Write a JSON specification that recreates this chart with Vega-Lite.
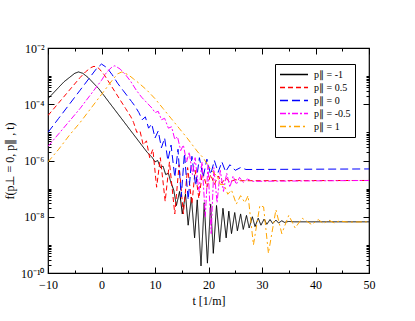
{
  "$schema": "https://vega.github.io/schema/vega-lite/v6.json",
  "width": 321,
  "height": 225,
  "autosize": {"type": "none"},
  "padding": {"left": 48, "top": 48, "right": 46, "bottom": 48},
  "background": "white",
  "config": {
    "view": {"stroke": "black", "strokeWidth": 1.2},
    "font": "Liberation Serif",
    "axis": {"domain": false, "grid": false, "tickColor": "black", "labelColor": "black", "titleColor": "black", "labelFont": "Liberation Serif", "titleFont": "Liberation Serif", "labelFontSize": 12, "titleFontSize": 12, "titleFontWeight": "normal"}
  },
  "datasets": {
    "curves": [
      {"s":"p∥ = -1","t":-10,"f":1.58e-4},{"s":"p∥ = -1","t":-9,"f":2.51e-4},{"s":"p∥ = -1","t":-8,"f":3.98e-4},{"s":"p∥ = -1","t":-7,"f":6.31e-4},{"s":"p∥ = -1","t":-6,"f":8.91e-4},{"s":"p∥ = -1","t":-5,"f":1.26e-3},{"s":"p∥ = -1","t":-4.3,"f":1.41e-3},{"s":"p∥ = -1","t":-3.5,"f":1.26e-3},{"s":"p∥ = -1","t":-2.5,"f":8.91e-4},{"s":"p∥ = -1","t":-1.5,"f":5.62e-4},{"s":"p∥ = -1","t":-0.5,"f":3.55e-4},{"s":"p∥ = -1","t":0.5,"f":2.0e-4},{"s":"p∥ = -1","t":1.5,"f":1.12e-4},{"s":"p∥ = -1","t":2.5,"f":6.31e-5},{"s":"p∥ = -1","t":3.5,"f":3.55e-5},{"s":"p∥ = -1","t":4.5,"f":2.0e-5},{"s":"p∥ = -1","t":5.5,"f":1.12e-5},{"s":"p∥ = -1","t":6.5,"f":6.31e-6},{"s":"p∥ = -1","t":7.5,"f":3.55e-6},{"s":"p∥ = -1","t":8.5,"f":2.0e-6},{"s":"p∥ = -1","t":9.5,"f":1.26e-6},{"s":"p∥ = -1","t":10,"f":8.91e-7},{"s":"p∥ = -1","t":10.5,"f":1.0e-6},{"s":"p∥ = -1","t":11,"f":5.62e-7},{"s":"p∥ = -1","t":11.5,"f":6.31e-7},{"s":"p∥ = -1","t":12,"f":3.16e-7},{"s":"p∥ = -1","t":12.5,"f":3.55e-7},{"s":"p∥ = -1","t":13,"f":1.58e-7},{"s":"p∥ = -1","t":13.5,"f":8.91e-8},{"s":"p∥ = -1","t":14,"f":2.51e-8},{"s":"p∥ = -1","t":14.6,"f":7.94e-8},{"s":"p∥ = -1","t":15.1,"f":1.26e-8},{"s":"p∥ = -1","t":15.7,"f":6.31e-8},{"s":"p∥ = -1","t":16.2,"f":5.01e-9},{"s":"p∥ = -1","t":16.8,"f":5.01e-8},{"s":"p∥ = -1","t":17.4,"f":1.78e-9},{"s":"p∥ = -1","t":17.9,"f":3.98e-8},{"s":"p∥ = -1","t":18.6,"f":1.78e-10},{"s":"p∥ = -1","t":19.2,"f":3.16e-8},{"s":"p∥ = -1","t":19.8,"f":2.24e-10},{"s":"p∥ = -1","t":20.4,"f":2.82e-8},{"s":"p∥ = -1","t":20.9,"f":5.01e-10},{"s":"p∥ = -1","t":21.5,"f":2.51e-8},{"s":"p∥ = -1","t":22.1,"f":1.26e-9},{"s":"p∥ = -1","t":22.7,"f":2.0e-8},{"s":"p∥ = -1","t":23.3,"f":1.78e-9},{"s":"p∥ = -1","t":23.8,"f":1.58e-8},{"s":"p∥ = -1","t":24.3,"f":2.51e-9},{"s":"p∥ = -1","t":24.9,"f":1.41e-8},{"s":"p∥ = -1","t":25.4,"f":3.16e-9},{"s":"p∥ = -1","t":26,"f":1.26e-8},{"s":"p∥ = -1","t":26.5,"f":3.55e-9},{"s":"p∥ = -1","t":27.1,"f":1.12e-8},{"s":"p∥ = -1","t":27.6,"f":3.98e-9},{"s":"p∥ = -1","t":28.2,"f":1.0e-8},{"s":"p∥ = -1","t":28.7,"f":4.47e-9},{"s":"p∥ = -1","t":29.3,"f":8.91e-9},{"s":"p∥ = -1","t":29.8,"f":5.01e-9},{"s":"p∥ = -1","t":30.4,"f":8.3e-9},{"s":"p∥ = -1","t":30.9,"f":5.4e-9},{"s":"p∥ = -1","t":31.5,"f":7.94e-9},{"s":"p∥ = -1","t":32,"f":5.75e-9},{"s":"p∥ = -1","t":32.6,"f":7.6e-9},{"s":"p∥ = -1","t":33.1,"f":6.0e-9},{"s":"p∥ = -1","t":33.7,"f":7.2e-9},{"s":"p∥ = -1","t":34.2,"f":6.31e-9},{"s":"p∥ = -1","t":35,"f":6.8e-9},{"s":"p∥ = -1","t":36,"f":6.6e-9},{"s":"p∥ = -1","t":50,"f":6.6e-9},

      {"s":"p∥ = 0.5","t":-10,"f":3.98e-5},{"s":"p∥ = 0.5","t":-8,"f":1.12e-4},{"s":"p∥ = 0.5","t":-6,"f":3.16e-4},{"s":"p∥ = 0.5","t":-4,"f":8.91e-4},{"s":"p∥ = 0.5","t":-3,"f":1.41e-3},{"s":"p∥ = 0.5","t":-2,"f":2.0e-3},{"s":"p∥ = 0.5","t":-1.4,"f":2.24e-3},{"s":"p∥ = 0.5","t":-0.5,"f":1.9e-3},{"s":"p∥ = 0.5","t":0.5,"f":1.12e-3},{"s":"p∥ = 0.5","t":1.5,"f":5.62e-4},{"s":"p∥ = 0.5","t":2.5,"f":2.82e-4},{"s":"p∥ = 0.5","t":3.5,"f":1.41e-4},{"s":"p∥ = 0.5","t":4.5,"f":7.08e-5},{"s":"p∥ = 0.5","t":5.5,"f":3.55e-5},{"s":"p∥ = 0.5","t":6,"f":2.24e-5},{"s":"p∥ = 0.5","t":6.6,"f":1.0e-5},{"s":"p∥ = 0.5","t":7.2,"f":1.12e-5},{"s":"p∥ = 0.5","t":7.8,"f":3.55e-6},{"s":"p∥ = 0.5","t":8.4,"f":5.01e-6},{"s":"p∥ = 0.5","t":9,"f":1.26e-6},{"s":"p∥ = 0.5","t":9.6,"f":2.51e-6},{"s":"p∥ = 0.5","t":10.3,"f":1.12e-7},{"s":"p∥ = 0.5","t":11,"f":1.26e-6},{"s":"p∥ = 0.5","t":11.9,"f":3.55e-8},{"s":"p∥ = 0.5","t":12.7,"f":8.91e-7},{"s":"p∥ = 0.5","t":13.7,"f":1.26e-8},{"s":"p∥ = 0.5","t":14.5,"f":7.08e-7},{"s":"p∥ = 0.5","t":15.3,"f":1.26e-8},{"s":"p∥ = 0.5","t":16.1,"f":5.62e-7},{"s":"p∥ = 0.5","t":16.9,"f":2.82e-8},{"s":"p∥ = 0.5","t":17.5,"f":4.47e-7},{"s":"p∥ = 0.5","t":18.2,"f":4.47e-8},{"s":"p∥ = 0.5","t":18.9,"f":3.98e-7},{"s":"p∥ = 0.5","t":19.7,"f":1.12e-7},{"s":"p∥ = 0.5","t":20.4,"f":3.16e-7},{"s":"p∥ = 0.5","t":21.1,"f":1.41e-7},{"s":"p∥ = 0.5","t":21.8,"f":2.82e-7},{"s":"p∥ = 0.5","t":22.5,"f":1.58e-7},{"s":"p∥ = 0.5","t":23.2,"f":2.4e-7},{"s":"p∥ = 0.5","t":24,"f":1.74e-7},{"s":"p∥ = 0.5","t":25,"f":2.09e-7},{"s":"p∥ = 0.5","t":26,"f":1.91e-7},{"s":"p∥ = 0.5","t":50,"f":1.95e-7},

      {"s":"p∥ = 0","t":-10,"f":1.0e-5},{"s":"p∥ = 0","t":-8,"f":3.16e-5},{"s":"p∥ = 0","t":-6,"f":1.0e-4},{"s":"p∥ = 0","t":-4,"f":3.16e-4},{"s":"p∥ = 0","t":-2,"f":1.0e-3},{"s":"p∥ = 0","t":-1,"f":1.78e-3},{"s":"p∥ = 0","t":0,"f":2.69e-3},{"s":"p∥ = 0","t":1,"f":2.0e-3},{"s":"p∥ = 0","t":2,"f":1.12e-3},{"s":"p∥ = 0","t":3,"f":5.62e-4},{"s":"p∥ = 0","t":4,"f":3.16e-4},{"s":"p∥ = 0","t":5,"f":1.78e-4},{"s":"p∥ = 0","t":5.6,"f":1.26e-4},{"s":"p∥ = 0","t":6.2,"f":8.91e-5},{"s":"p∥ = 0","t":7,"f":5.01e-5},{"s":"p∥ = 0","t":7.6,"f":2.82e-5},{"s":"p∥ = 0","t":8.2,"f":3.55e-5},{"s":"p∥ = 0","t":8.8,"f":1.41e-5},{"s":"p∥ = 0","t":9.4,"f":2.0e-5},{"s":"p∥ = 0","t":10,"f":6.31e-6},{"s":"p∥ = 0","t":10.6,"f":1.12e-5},{"s":"p∥ = 0","t":11.2,"f":2.82e-6},{"s":"p∥ = 0","t":11.8,"f":6.31e-6},{"s":"p∥ = 0","t":12.4,"f":1.0e-6},{"s":"p∥ = 0","t":13,"f":3.55e-6},{"s":"p∥ = 0","t":13.7,"f":2.51e-7},{"s":"p∥ = 0","t":14.3,"f":2.51e-6},{"s":"p∥ = 0","t":14.9,"f":5.01e-8},{"s":"p∥ = 0","t":15.5,"f":1.78e-6},{"s":"p∥ = 0","t":16.2,"f":3.98e-8},{"s":"p∥ = 0","t":16.9,"f":1.41e-6},{"s":"p∥ = 0","t":17.6,"f":1.26e-7},{"s":"p∥ = 0","t":18.3,"f":1.26e-6},{"s":"p∥ = 0","t":19,"f":2.51e-7},{"s":"p∥ = 0","t":19.7,"f":1.12e-6},{"s":"p∥ = 0","t":20.4,"f":3.16e-7},{"s":"p∥ = 0","t":21.1,"f":1.0e-6},{"s":"p∥ = 0","t":21.8,"f":3.8e-7},{"s":"p∥ = 0","t":22.5,"f":8.91e-7},{"s":"p∥ = 0","t":23.2,"f":3.98e-7},{"s":"p∥ = 0","t":24,"f":7.08e-7},{"s":"p∥ = 0","t":25,"f":4.47e-7},{"s":"p∥ = 0","t":26,"f":5.62e-7},{"s":"p∥ = 0","t":27,"f":4.79e-7},{"s":"p∥ = 0","t":50,"f":5.01e-7},

      {"s":"p∥ = -0.5","t":-10,"f":3.16e-6},{"s":"p∥ = -0.5","t":-8,"f":8.91e-6},{"s":"p∥ = -0.5","t":-6,"f":2.51e-5},{"s":"p∥ = -0.5","t":-4,"f":7.08e-5},{"s":"p∥ = -0.5","t":-2,"f":2.24e-4},{"s":"p∥ = -0.5","t":0,"f":7.08e-4},{"s":"p∥ = -0.5","t":1,"f":1.41e-3},{"s":"p∥ = -0.5","t":2,"f":2.14e-3},{"s":"p∥ = -0.5","t":2.5,"f":2.34e-3},{"s":"p∥ = -0.5","t":3.5,"f":1.78e-3},{"s":"p∥ = -0.5","t":4.5,"f":1.12e-3},{"s":"p∥ = -0.5","t":5.5,"f":6.31e-4},{"s":"p∥ = -0.5","t":6.5,"f":3.16e-4},{"s":"p∥ = -0.5","t":7.5,"f":1.78e-4},{"s":"p∥ = -0.5","t":8.5,"f":1.12e-4},{"s":"p∥ = -0.5","t":9.5,"f":7.08e-5},{"s":"p∥ = -0.5","t":10,"f":5.01e-5},{"s":"p∥ = -0.5","t":10.6,"f":5.62e-5},{"s":"p∥ = -0.5","t":11.2,"f":2.82e-5},{"s":"p∥ = -0.5","t":11.8,"f":3.16e-5},{"s":"p∥ = -0.5","t":12.5,"f":1.41e-5},{"s":"p∥ = -0.5","t":13.1,"f":1.58e-5},{"s":"p∥ = -0.5","t":13.7,"f":5.62e-6},{"s":"p∥ = -0.5","t":14.2,"f":7.08e-6},{"s":"p∥ = -0.5","t":14.8,"f":2.24e-6},{"s":"p∥ = -0.5","t":15.3,"f":3.55e-6},{"s":"p∥ = -0.5","t":15.9,"f":8.91e-7},{"s":"p∥ = -0.5","t":16.4,"f":2.0e-6},{"s":"p∥ = -0.5","t":17,"f":3.16e-7},{"s":"p∥ = -0.5","t":17.5,"f":1.26e-6},{"s":"p∥ = -0.5","t":18.2,"f":7.94e-8},{"s":"p∥ = -0.5","t":18.8,"f":8.91e-7},{"s":"p∥ = -0.5","t":19.4,"f":1.0e-8},{"s":"p∥ = -0.5","t":19.9,"f":7.08e-7},{"s":"p∥ = -0.5","t":20.5,"f":2.51e-9},{"s":"p∥ = -0.5","t":21,"f":5.62e-7},{"s":"p∥ = -0.5","t":21.6,"f":3.16e-8},{"s":"p∥ = -0.5","t":22.2,"f":4.47e-7},{"s":"p∥ = -0.5","t":22.8,"f":7.94e-8},{"s":"p∥ = -0.5","t":23.4,"f":3.55e-7},{"s":"p∥ = -0.5","t":24,"f":1.12e-7},{"s":"p∥ = -0.5","t":24.6,"f":2.82e-7},{"s":"p∥ = -0.5","t":25.2,"f":1.41e-7},{"s":"p∥ = -0.5","t":25.8,"f":2.51e-7},{"s":"p∥ = -0.5","t":26.5,"f":1.66e-7},{"s":"p∥ = -0.5","t":27.3,"f":2.19e-7},{"s":"p∥ = -0.5","t":28.2,"f":1.82e-7},{"s":"p∥ = -0.5","t":50,"f":1.95e-7},

      {"s":"p∥ = 1","t":-10,"f":8.91e-7},{"s":"p∥ = 1","t":-8,"f":2.51e-6},{"s":"p∥ = 1","t":-6,"f":7.94e-6},{"s":"p∥ = 1","t":-4,"f":2.24e-5},{"s":"p∥ = 1","t":-2,"f":7.08e-5},{"s":"p∥ = 1","t":0,"f":2.24e-4},{"s":"p∥ = 1","t":1,"f":3.98e-4},{"s":"p∥ = 1","t":2,"f":7.08e-4},{"s":"p∥ = 1","t":3,"f":1.2e-3},{"s":"p∥ = 1","t":3.8,"f":1.41e-3},{"s":"p∥ = 1","t":5,"f":1.12e-3},{"s":"p∥ = 1","t":6,"f":7.94e-4},{"s":"p∥ = 1","t":7,"f":5.62e-4},{"s":"p∥ = 1","t":8.5,"f":3.16e-4},{"s":"p∥ = 1","t":10,"f":1.58e-4},{"s":"p∥ = 1","t":11.5,"f":7.08e-5},{"s":"p∥ = 1","t":13,"f":3.16e-5},{"s":"p∥ = 1","t":14.5,"f":1.41e-5},{"s":"p∥ = 1","t":16,"f":6.31e-6},{"s":"p∥ = 1","t":17,"f":3.55e-6},{"s":"p∥ = 1","t":18,"f":2.0e-6},{"s":"p∥ = 1","t":19,"f":1.26e-6},{"s":"p∥ = 1","t":20,"f":6.31e-7},{"s":"p∥ = 1","t":21,"f":3.55e-7},{"s":"p∥ = 1","t":21.6,"f":2.82e-7},{"s":"p∥ = 1","t":22.2,"f":1.41e-7},{"s":"p∥ = 1","t":22.9,"f":1.41e-7},{"s":"p∥ = 1","t":23.6,"f":6.31e-8},{"s":"p∥ = 1","t":24.3,"f":8.91e-8},{"s":"p∥ = 1","t":25.2,"f":2.82e-8},{"s":"p∥ = 1","t":26,"f":5.62e-8},{"s":"p∥ = 1","t":26.8,"f":3.16e-8},{"s":"p∥ = 1","t":27.4,"f":5.62e-8},{"s":"p∥ = 1","t":28.4,"f":1.0e-9},{"s":"p∥ = 1","t":29.6,"f":2.51e-8},{"s":"p∥ = 1","t":30.3,"f":2.24e-8},{"s":"p∥ = 1","t":31.2,"f":5.01e-10},{"s":"p∥ = 1","t":32.6,"f":1.78e-8},{"s":"p∥ = 1","t":33.7,"f":2.51e-9},{"s":"p∥ = 1","t":35,"f":1.12e-8},{"s":"p∥ = 1","t":36.2,"f":3.98e-9},{"s":"p∥ = 1","t":37.5,"f":8.91e-9},{"s":"p∥ = 1","t":39.3,"f":5.25e-9},{"s":"p∥ = 1","t":40.5,"f":7.94e-9},{"s":"p∥ = 1","t":41.5,"f":5.75e-9},{"s":"p∥ = 1","t":42.5,"f":7.59e-9},{"s":"p∥ = 1","t":43.5,"f":6.03e-9},{"s":"p∥ = 1","t":44.5,"f":7.08e-9},{"s":"p∥ = 1","t":46,"f":6.46e-9},{"s":"p∥ = 1","t":50,"f":6.61e-9}
    ],
    "corner": [{"t": -10, "f": 1e-10}]
  },
  "layer": [
    {
      "data": {"name": "curves"},
      "mark": {"type": "line", "strokeWidth": 1, "clip": true},
      "encoding": {
        "x": {
          "field": "t", "type": "quantitative",
          "scale": {"domain": [-10, 50], "nice": false, "zero": false},
          "axis": {
            "orient": "bottom", "title": "t [1/m]", "titlePadding": 5,
            "values": [-10, -5, 0, 5, 10, 15, 20, 25, 30, 35, 40, 45, 50],
            "labelExpr": "datum.value % 10 == 0 ? datum.label : ''",
            "tickSize": {"condition": {"test": "datum.value % 10 == 0", "value": -6}, "value": -3},
            "labelPadding": 12, "labelFlush": false
          }
        },
        "y": {
          "field": "f", "type": "quantitative",
          "scale": {"type": "log", "domain": [1e-10, 1e-2], "nice": false},
          "axis": {
            "orient": "left", "title": "f(p⊥ = 0, p∥ , t)", "titlePadding": 4,
            "values": [1e-10,2e-10,3e-10,4e-10,5e-10,6e-10,7e-10,8e-10,9e-10,1e-9,1e-8,2e-8,3e-8,4e-8,5e-8,6e-8,7e-8,8e-8,9e-8,1e-7,1e-6,2e-6,3e-6,4e-6,5e-6,6e-6,7e-6,8e-6,9e-6,1e-5,1e-4,2e-4,3e-4,4e-4,5e-4,6e-4,7e-4,8e-4,9e-4,1e-3,1e-2],
            "labelExpr": "datum.value == 1e-2 ? '10⁻²' : datum.value == 1e-4 ? '10⁻⁴' : datum.value == 1e-6 ? '10⁻⁶' : datum.value == 1e-8 ? '10⁻⁸' : datum.value == 1e-10 ? '10⁻¹⁰' : ''",
            "tickSize": {"condition": {"test": "indexof([1e-10,1e-8,1e-6,1e-4,1e-2], datum.value) >= 0", "value": -6}, "value": -3},
            "labelPadding": 10, "labelFlush": false
          }
        },
        "color": {
          "field": "s", "type": "nominal",
          "scale": {"domain": ["p∥ = -1", "p∥ = 0.5", "p∥ = 0", "p∥ = -0.5", "p∥ = 1"], "range": ["#000000", "#ff0000", "#0000ff", "#ff00ff", "#ffa500"]},
          "legend": {
            "orient": "none", "legendX": 227, "legendY": 16, "title": null,
            "symbolType": "stroke", "symbolSize": 784, "symbolStrokeWidth": 1.3, "symbolOpacity": 1,
            "labelFont": "Liberation Serif", "labelFontSize": 10, "labelColor": "black", "labelOffset": 5,
            "clipHeight": 13, "rowPadding": 0,
            "strokeColor": "black", "fillColor": "white", "padding": 4
          }
        },
        "strokeDash": {
          "field": "s", "type": "nominal",
          "scale": {"domain": ["p∥ = -1", "p∥ = 0.5", "p∥ = 0", "p∥ = -0.5", "p∥ = 1"], "range": [[1, 0], [5, 3], [8, 4], [6, 2, 2, 2], [6, 3, 2, 3]]},
          "legend": {
            "orient": "none", "legendX": 227, "legendY": 16, "title": null,
            "symbolType": "stroke", "symbolSize": 784, "symbolStrokeWidth": 1.3, "symbolOpacity": 1,
            "labelFont": "Liberation Serif", "labelFontSize": 10, "labelColor": "black", "labelOffset": 5,
            "clipHeight": 13, "rowPadding": 0,
            "strokeColor": "black", "fillColor": "white", "padding": 4
          }
        }
      }
    },
    {
      "data": {"name": "corner"},
      "mark": {"type": "point", "opacity": 0},
      "encoding": {
        "x": {
          "field": "t", "type": "quantitative",
          "axis": {
            "orient": "top", "title": null, "labels": false,
            "values": [-10, -5, 0, 5, 10, 15, 20, 25, 30, 35, 40, 45, 50],
            "tickSize": {"condition": {"test": "datum.value % 10 == 0", "value": -6}, "value": -3}
          }
        },
        "y": {
          "field": "f", "type": "quantitative",
          "axis": {
            "orient": "right", "title": null, "labels": false,
            "values": [1e-10,2e-10,3e-10,4e-10,5e-10,6e-10,7e-10,8e-10,9e-10,1e-9,1e-8,2e-8,3e-8,4e-8,5e-8,6e-8,7e-8,8e-8,9e-8,1e-7,1e-6,2e-6,3e-6,4e-6,5e-6,6e-6,7e-6,8e-6,9e-6,1e-5,1e-4,2e-4,3e-4,4e-4,5e-4,6e-4,7e-4,8e-4,9e-4,1e-3,1e-2],
            "tickSize": {"condition": {"test": "indexof([1e-10,1e-8,1e-6,1e-4,1e-2], datum.value) >= 0", "value": -6}, "value": -3}
          }
        }
      }
    }
  ],
  "resolve": {"axis": {"x": "independent", "y": "independent"}}
}
